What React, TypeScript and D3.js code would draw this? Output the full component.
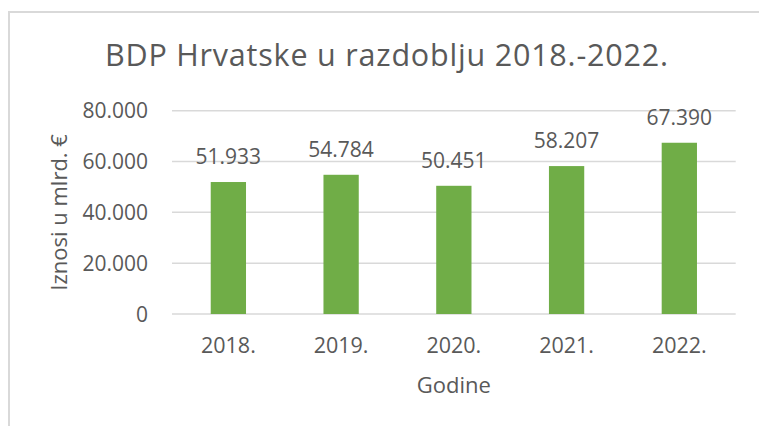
import React from "react";
import * as d3 from "d3";

const years = ["2018.", "2019.", "2020.", "2021.", "2022."];
const gdp = [51933, 54784, 50451, 58207, 67390];
const yTicks = [0, 20000, 40000, 60000, 80000];

const title = "BDP Hrvatske u razdoblju 2018.-2022.";
const xTitle = "Godine";
const yTitle = "Iznosi u mlrd. €";

const hr = d3.formatLocale({ decimal: ",", thousands: ".", grouping: [3], currency: ["", " €"] });
const fmt = hr.format(",d");

export default function App() {
  const width = 759;
  const height = 426;
  const plot = { left: 172, right: 735.7, top: 110.7, bottom: 314 };

  const textColor = "#595959";
  const gridColor = "#D9D9D9";
  const barColor = "#70AD47";
  const font = "'Open Sans', sans-serif";

  const xScale = d3.scaleBand()
    .domain(years)
    .range([plot.left, plot.right])
    .paddingInner(0.687)
    .paddingOuter(0.3435);

  const yScale = d3.scaleLinear().domain([0, 80000]).range([plot.bottom, plot.top]);

  return (
    <svg width={width} height={height} style={{ position: "absolute", left: 0, top: 0, background: "white" }}>
      <rect x={0} y={0} width={width} height={height} fill="white" />
      <rect x={9} y={12} width={width + 20} height={height + 20} fill="white" stroke={gridColor} strokeWidth={2} />

      <text x={386.5} y={66} textAnchor="middle" fontFamily={font} fontSize={30.5} textLength={563} lengthAdjust="spacing" fill={textColor}>{title}</text>

      <g className="grid">
        {yTicks.map(t => (
          <line key={t} x1={plot.left} x2={plot.right} y1={yScale(t)} y2={yScale(t)} stroke={gridColor} strokeWidth={1.5} />
        ))}
      </g>

      <g className="yticks">
        {yTicks.map(t => (
          <text key={t} x={148} y={yScale(t) + 7.6} textAnchor="end" fontFamily={font} fontSize={21} fill={textColor}>{fmt(t)}</text>
        ))}
      </g>

      <g className="bars">
        {gdp.map((v, i) => (
          <rect key={years[i]} x={xScale(years[i])} y={yScale(v)} width={xScale.bandwidth()} height={yScale(0) - yScale(v)} fill={barColor} />
        ))}
      </g>

      <g className="labels">
        {gdp.map((v, i) => (
          <text key={years[i]} x={(xScale(years[i]) || 0) + xScale.bandwidth() / 2} y={yScale(v) - 18} textAnchor="middle" fontFamily={font} fontSize={21} fill={textColor}>{fmt(v)}</text>
        ))}
      </g>

      <g className="xticks">
        {years.map(y => (
          <text key={y} x={(xScale(y) || 0) + xScale.bandwidth() / 2} y={353} textAnchor="middle" fontFamily={font} fontSize={21.5} fill={textColor}>{y}</text>
        ))}
      </g>

      <text x={(plot.left + plot.right) / 2} y={393} textAnchor="middle" fontFamily={font} fontSize={22} fill={textColor}>{xTitle}</text>

      <text transform={`translate(67,${(plot.top + plot.bottom) / 2}) rotate(-90)`} textAnchor="middle" fontFamily={font} fontSize={22} fill={textColor}>{yTitle}</text>
    </svg>
  );
}
